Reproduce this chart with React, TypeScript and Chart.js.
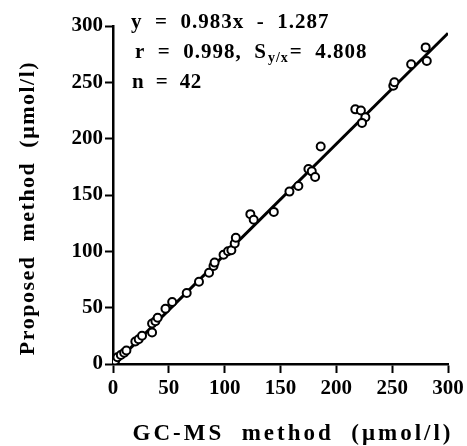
import React, { useEffect, useRef } from "react";
import { Chart, registerables } from "chart.js";

Chart.register(...registerables);

// GC-MS method values (x) and proposed method values (y), µmol/l
const gcmsMethod = [
  2, 4, 7, 10, 12, 20, 23, 26, 35, 35, 38, 40, 47, 53, 66, 77, 86, 90, 91, 99, 103,
  106, 109, 110, 123, 126, 144, 158, 166, 175, 178, 181, 186, 217, 222, 226, 223,
  251, 252, 267, 280, 281,
];
const proposedMethod = [
  3, 6, 8, 10, 12, 20, 22, 25, 28, 36, 38, 41, 49, 55, 63, 73, 81, 87, 90, 97, 100,
  101, 107, 112, 133, 128, 135, 153, 158, 173, 171, 166, 193, 226, 225, 219, 214,
  247, 250, 266, 281, 269,
];
const regressionSlope = 0.983;
const regressionIntercept = -1.287;
const regressionXRange = [0, 300];
const xTickValues = [0, 50, 100, 150, 200, 250, 300];
const yTickValues = [0, 50, 100, 150, 200, 250, 300];

const xTitle = "GC-MS  method  (\u03bcmol/l)";
const yTitle = "Proposed  method  (\u03bcmol/l)";
const statLine1 = "y  =  0.983x  -  1.287";
const statLine2a = "r  =  0.998,  S";
const statLine2sub = "y/x";
const statLine2b = "=  4.808";
const statLine3 = "n  =  42";

const FONT = "'Liberation Serif', 'Times New Roman', serif";

const textPlugin = {
  id: "customText",
  afterDraw(chart: any) {
    const ctx: CanvasRenderingContext2D = chart.ctx;
    ctx.save();
    ctx.fillStyle = "#000";
    ctx.textBaseline = "alphabetic";
    // axis titles
    ctx.font = `bold 23px ${FONT}`;
    (ctx as any).letterSpacing = "3px";
    ctx.textAlign = "center";
    ctx.fillText(xTitle, 293, 440);
    ctx.font = `bold 22px ${FONT}`;
    (ctx as any).letterSpacing = "1.5px";
    ctx.save();
    ctx.translate(34, 208);
    ctx.rotate(-Math.PI / 2);
    ctx.fillText(yTitle, 0, 0);
    ctx.restore();
    // statistics
    ctx.textAlign = "left";
    (ctx as any).letterSpacing = "1px";
    ctx.font = `bold 21px ${FONT}`;
    ctx.fillText(statLine1, 131, 28);
    let x = 135;
    ctx.fillText(statLine2a, x, 58);
    x += ctx.measureText(statLine2a).width + 1;
    ctx.font = `bold 14px ${FONT}`;
    ctx.fillText(statLine2sub, x, 62);
    x += ctx.measureText(statLine2sub).width + 1;
    ctx.font = `bold 21px ${FONT}`;
    ctx.fillText(statLine2b, x, 58);
    (ctx as any).letterSpacing = "0.5px";
    ctx.fillText(statLine3, 132, 88);
    ctx.restore();
  },
};

export default function App() {
  const canvasRef = useRef<HTMLCanvasElement>(null);

  useEffect(() => {
    const canvas = canvasRef.current;
    if (!canvas) return;
    const points = gcmsMethod.map((x, i) => ({ x, y: proposedMethod[i] }));
    const linePts = regressionXRange.map((x) => ({
      x,
      y: regressionSlope * x + regressionIntercept,
    }));
    const tickFont = { family: FONT, size: 21, weight: "bold" as const };
    const chart = new Chart(canvas, {
      type: "scatter",
      data: {
        datasets: [
          {
            type: "scatter",
            data: points,
            pointRadius: 4,
            pointBorderWidth: 2,
            pointBorderColor: "#000",
            pointBackgroundColor: "#fff",
            order: 0,
          },
          {
            type: "line",
            data: linePts,
            borderColor: "#000",
            borderWidth: 3,
            pointRadius: 0,
            fill: false,
            order: 1,
          } as any,
        ],
      },
      options: {
        responsive: false,
        animation: false,
        events: [],
        layout: { padding: { left: 0, top: 26, right: 19, bottom: 0 } },
        plugins: {
          legend: { display: false },
          tooltip: { enabled: false },
          title: { display: false },
        },
        scales: {
          x: {
            type: "linear",
            min: 0,
            max: 300,
            afterBuildTicks: (s: any) => {
              s.ticks = xTickValues.map((v) => ({ value: v }));
            },
            afterFit: (s: any) => {
              s.height = 82;
            },
            ticks: { font: tickFont, color: "#000", padding: 3, maxRotation: 0 },
            grid: {
              drawOnChartArea: false,
              drawTicks: true,
              tickLength: 9,
              tickWidth: 2,
              tickColor: "#000",
            },
            border: { color: "#000", width: 2.5 },
          },
          y: {
            type: "linear",
            min: 0,
            max: 300,
            afterBuildTicks: (s: any) => {
              s.ticks = yTickValues.map((v) => ({ value: v }));
            },
            afterFit: (s: any) => {
              s.width = 113;
            },
            ticks: { font: tickFont, color: "#000", padding: 2 },
            grid: {
              drawOnChartArea: false,
              drawTicks: true,
              tickLength: 8,
              tickWidth: 2,
              tickColor: "#000",
            },
            border: { color: "#000", width: 2.5 },
          },
        },
      },
      plugins: [textPlugin],
    });
    return () => chart.destroy();
  }, []);

  return (
    <div style={{ position: "absolute", left: 0, top: 0, width: 467, height: 446, background: "#fff" }}>
      <canvas ref={canvasRef} width={467} height={446} style={{ display: "block" }} />
    </div>
  );
}
